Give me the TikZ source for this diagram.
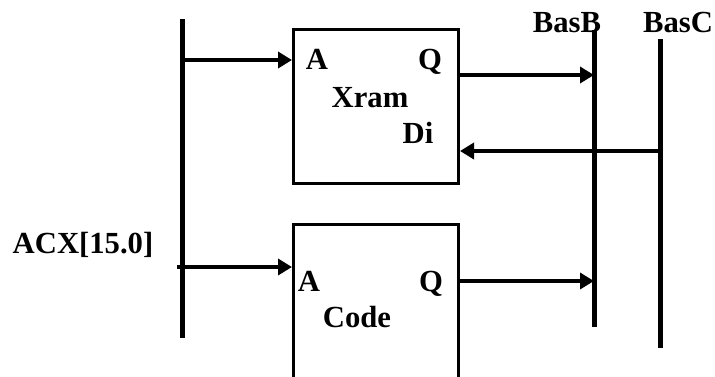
\documentclass[tikz,border=0pt]{standalone}
\usepackage{fontspec}
\setmainfont{Liberation Serif}
\usetikzlibrary{arrows.meta}

\begin{document}
\begin{tikzpicture}[
    x=0.75pt, y=-0.75pt,
    unit/.style={rectangle, draw=black, line width=2.25pt, minimum width=123.75pt, inner sep=0pt},
    lbl/.style={anchor=base, inner sep=0pt, font=\bfseries\fontsize{23}{27}\selectfont},
    bus/.style={line width=3.75pt},
    arrow/.style={-{Triangle[length=10.5pt, width=12pt]}, line width=3pt}
]
    \clip (0,0) rectangle (715,376);

    % units
    \node [unit, minimum height=115.5pt] (xram) at (376,106) {};
    \node [unit, minimum height=120pt] (code) at (376,304) {};

    % buses
    \coordinate (busA1) at (182,19);
    \coordinate (busA2) at (182,338);
    \coordinate (busB1) at (594,30);
    \coordinate (busB2) at (594,327);
    \coordinate (busC1) at (660,39);
    \coordinate (busC2) at (660,348);
    \draw [bus] (busA1) -- (busA2);
    \draw [bus] (busB1) -- (busB2);
    \draw [bus] (busC1) -- (busC2);

    % labels
    \node [lbl] (xramA) at (317,69) {A};
    \node [lbl] (xramQ) at (430,69) {Q};
    \node [lbl] (xramN) at (370,107) {Xram};
    \node [lbl] (xramDi) at (418,143) {Di};
    \node [lbl] (codeA) at (309,291) {A};
    \node [lbl] (codeQ) at (431,291) {Q};
    \node [lbl] (codeN) at (357,327) {Code};
    \node [lbl] (basB) at (567,32) {BasB};
    \node [lbl] (basC) at (678,32) {BasC};
    \node [lbl] (acx) at (83,253) {ACX[15.0]};

    % connectors
    \coordinate (acxIn) at (177,267);
    \draw [arrow] (busA1 |- 0,60) -- (xram.west |- 0,60);
    \draw [arrow] (xram.east |- 0,75) -- (busB1 |- 0,75);
    \draw [arrow] (busC1 |- 0,151) -- (xram.east |- 0,151);
    \draw [arrow] (acxIn) -- (code.west |- acxIn);
    \draw [arrow] (code.east |- 0,281) -- (busB1 |- 0,281);
\end{tikzpicture}
\end{document}
